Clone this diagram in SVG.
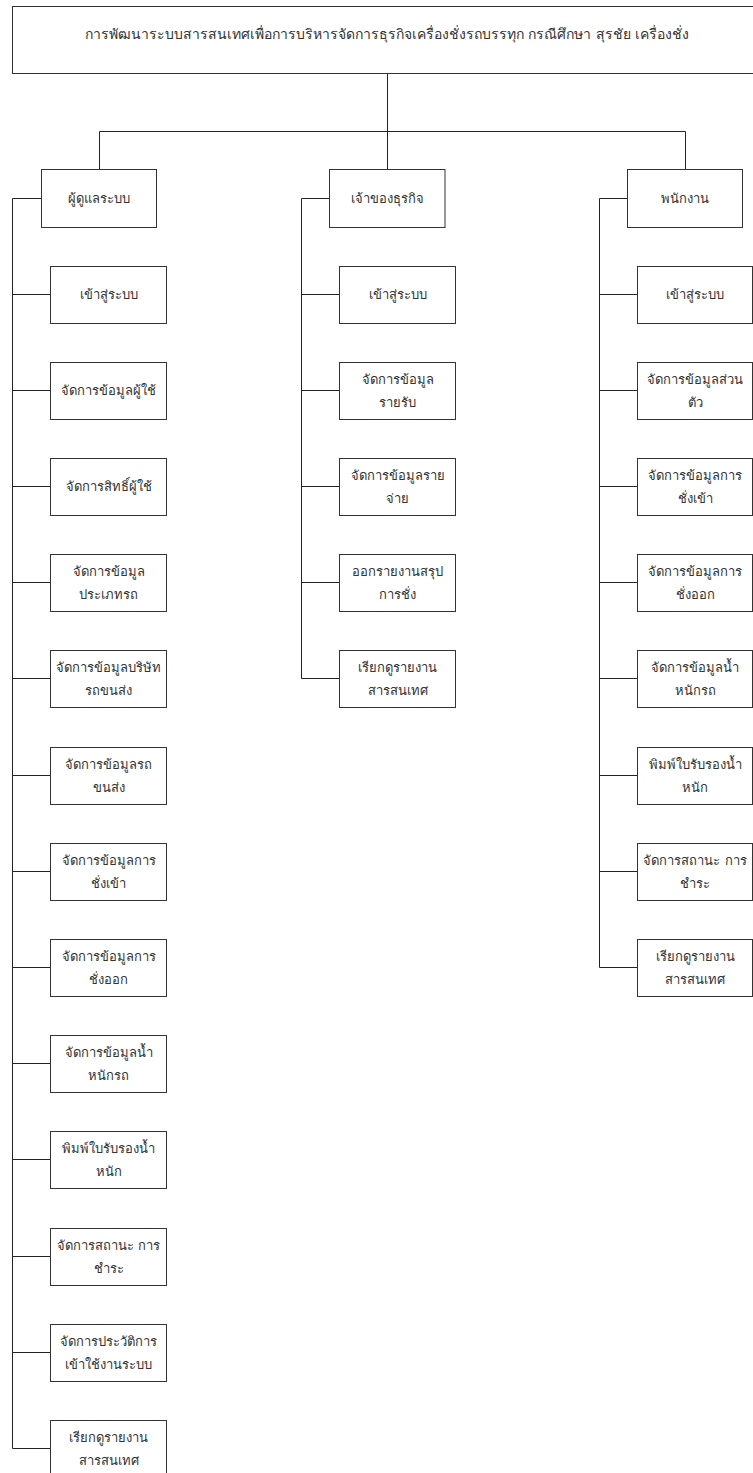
<svg xmlns="http://www.w3.org/2000/svg" width="753" height="1473" viewBox="0 0 753 1473">
<style>
.box{fill:#fff;stroke:#333;stroke-width:1}
.ln{fill:none;stroke:#222;stroke-width:1}
text{font-family:Tahoma,"DejaVu Sans","Noto Sans",sans-serif;font-size:13px;fill:#333;text-anchor:middle}
.t{font-size:14px}
</style>
<rect width="753" height="1473" fill="#fff"/>
<g id="connectors">
<path class="ln" d="M387.5 73.5V131.5M99.5 169.5V131.5H685.5V169.5M387.5 131.5V169.5"/>
<path class="ln" d="M41.5 198.5H12.5V1448.5M12.5 294.5H50.5M12.5 390.5H50.5M12.5 486.5H50.5M12.5 582.5H50.5M12.5 678.5H50.5M12.5 775.5H50.5M12.5 871.5H50.5M12.5 967.5H50.5M12.5 1063.5H50.5M12.5 1159.5H50.5M12.5 1256.5H50.5M12.5 1352.5H50.5M12.5 1448.5H50.5"/>
<path class="ln" d="M329.5 198.5H301.5V678.5M301.5 294.5H339.5M301.5 390.5H339.5M301.5 486.5H339.5M301.5 582.5H339.5M301.5 678.5H339.5"/>
<path class="ln" d="M627.5 198.5H599.5V967.5M599.5 294.5H637.5M599.5 390.5H637.5M599.5 486.5H637.5M599.5 582.5H637.5M599.5 678.5H637.5M599.5 775.5H637.5M599.5 871.5H637.5M599.5 967.5H637.5"/>
</g>
<g id="title"><rect class="box" x="12.5" y="6.5" width="760" height="67"/><text class="t" x="387" y="39">การพัฒนาระบบสารสนเทศเพื่อการบริหารจัดการธุรกิจเครื่องชั่งรถบรรทุก กรณีศึกษา สุรชัย เครื่องชั่ง</text></g>
<g id="h-admin"><rect class="box" x="41.5" y="169.5" width="115" height="58"/><text x="99" y="203">ผู้ดูแลระบบ</text></g>
<g id="h-owner"><rect class="box" x="329.5" y="169.5" width="115.5" height="58"/><text x="387" y="203">เจ้าของธุรกิจ</text></g>
<g id="h-staff"><rect class="box" x="627.5" y="169.5" width="115" height="58"/><text x="685" y="203">พนักงาน</text></g>

<g id="a0"><rect class="box" x="50.5" y="266.5" width="116" height="57"/><text x="108.5" y="299">เข้าสู่ระบบ</text></g>
<g id="a1"><rect class="box" x="50.5" y="362.5" width="116" height="57"/><text x="108.5" y="395">จัดการข้อมูลผู้ใช้</text></g>
<g id="a2"><rect class="box" x="50.5" y="458.5" width="116" height="57"/><text x="108.5" y="491">จัดการสิทธิ์ผู้ใช้</text></g>
<g id="a3"><rect class="box" x="50.5" y="554.5" width="116" height="57"/><text x="108.5" y="576">จัดการข้อมูล</text><text x="108.5" y="599">ประเภทรถ</text></g>
<g id="a4"><rect class="box" x="50.5" y="650.5" width="116" height="57"/><text x="108.5" y="672">จัดการข้อมูลบริษัท</text><text x="108.5" y="695">รถขนส่ง</text></g>
<g id="a5"><rect class="box" x="50.5" y="747.5" width="116" height="57"/><text x="108.5" y="769">จัดการข้อมูลรถ</text><text x="108.5" y="792">ขนส่ง</text></g>
<g id="a6"><rect class="box" x="50.5" y="843.5" width="116" height="57"/><text x="108.5" y="865">จัดการข้อมูลการ</text><text x="108.5" y="888">ชั่งเข้า</text></g>
<g id="a7"><rect class="box" x="50.5" y="939.5" width="116" height="57"/><text x="108.5" y="961">จัดการข้อมูลการ</text><text x="108.5" y="984">ชั่งออก</text></g>
<g id="a8"><rect class="box" x="50.5" y="1035.5" width="116" height="57"/><text x="108.5" y="1057">จัดการข้อมูลน้ำ</text><text x="108.5" y="1080">หนักรถ</text></g>
<g id="a9"><rect class="box" x="50.5" y="1131.5" width="116" height="57"/><text x="108.5" y="1153">พิมพ์ใบรับรองน้ำ</text><text x="108.5" y="1176">หนัก</text></g>
<g id="a10"><rect class="box" x="50.5" y="1228.5" width="116" height="57"/><text x="108.5" y="1250">จัดการสถานะ การ</text><text x="108.5" y="1273">ชำระ</text></g>
<g id="a11"><rect class="box" x="50.5" y="1324.5" width="116" height="57"/><text x="108.5" y="1346">จัดการประวัติการ</text><text x="108.5" y="1369">เข้าใช้งานระบบ</text></g>
<g id="a12"><rect class="box" x="50.5" y="1420.5" width="116" height="57"/><text x="108.5" y="1442">เรียกดูรายงาน</text><text x="108.5" y="1465">สารสนเทศ</text></g>

<g id="b0"><rect class="box" x="339.5" y="266.5" width="116" height="57"/><text x="397.5" y="299">เข้าสู่ระบบ</text></g>
<g id="b1"><rect class="box" x="339.5" y="362.5" width="116" height="57"/><text x="397.5" y="384">จัดการข้อมูล</text><text x="397.5" y="407">รายรับ</text></g>
<g id="b2"><rect class="box" x="339.5" y="458.5" width="116" height="57"/><text x="397.5" y="480">จัดการข้อมูลราย</text><text x="397.5" y="503">จ่าย</text></g>
<g id="b3"><rect class="box" x="339.5" y="554.5" width="116" height="57"/><text x="397.5" y="576">ออกรายงานสรุป</text><text x="397.5" y="599">การชั่ง</text></g>
<g id="b4"><rect class="box" x="339.5" y="650.5" width="116" height="57"/><text x="397.5" y="672">เรียกดูรายงาน</text><text x="397.5" y="695">สารสนเทศ</text></g>

<g id="c0"><rect class="box" x="637.5" y="266.5" width="115" height="57"/><text x="695" y="299">เข้าสู่ระบบ</text></g>
<g id="c1"><rect class="box" x="637.5" y="362.5" width="115" height="57"/><text x="695" y="384">จัดการข้อมูลส่วน</text><text x="695" y="407">ตัว</text></g>
<g id="c2"><rect class="box" x="637.5" y="458.5" width="115" height="57"/><text x="695" y="480">จัดการข้อมูลการ</text><text x="695" y="503">ชั่งเข้า</text></g>
<g id="c3"><rect class="box" x="637.5" y="554.5" width="115" height="57"/><text x="695" y="576">จัดการข้อมูลการ</text><text x="695" y="599">ชั่งออก</text></g>
<g id="c4"><rect class="box" x="637.5" y="650.5" width="115" height="57"/><text x="695" y="672">จัดการข้อมูลน้ำ</text><text x="695" y="695">หนักรถ</text></g>
<g id="c5"><rect class="box" x="637.5" y="747.5" width="115" height="57"/><text x="695" y="769">พิมพ์ใบรับรองน้ำ</text><text x="695" y="792">หนัก</text></g>
<g id="c6"><rect class="box" x="637.5" y="843.5" width="115" height="57"/><text x="695" y="865">จัดการสถานะ การ</text><text x="695" y="888">ชำระ</text></g>
<g id="c7"><rect class="box" x="637.5" y="939.5" width="115" height="57"/><text x="695" y="961">เรียกดูรายงาน</text><text x="695" y="984">สารสนเทศ</text></g>
</svg>
